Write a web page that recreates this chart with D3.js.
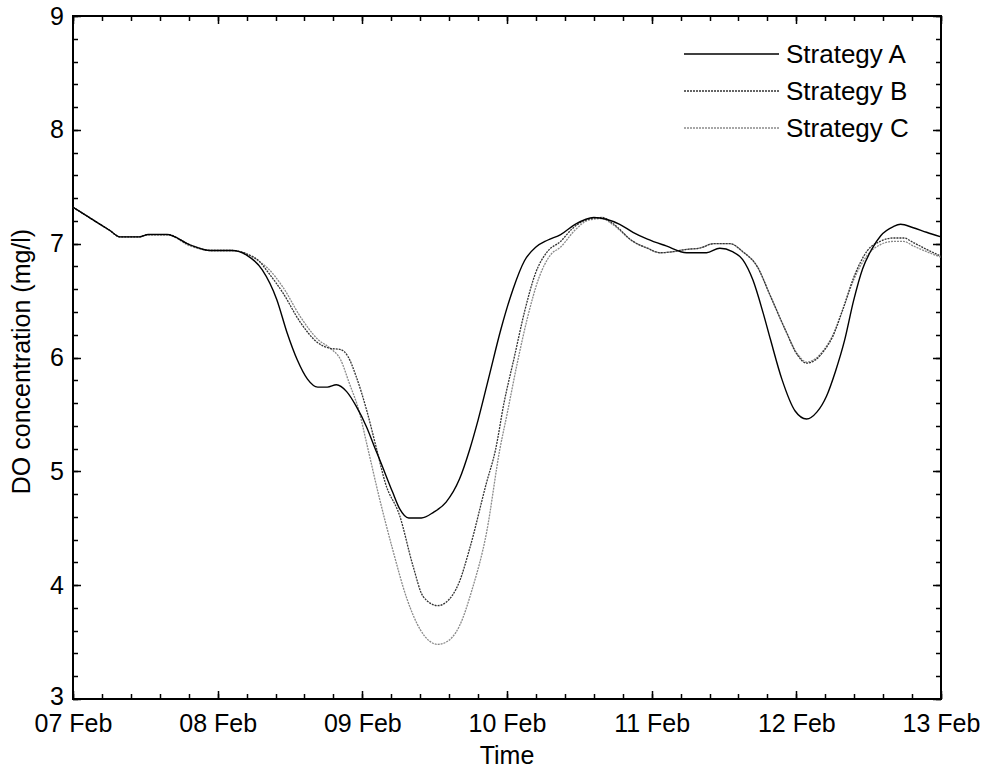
<!DOCTYPE html>
<html>
<head>
<meta charset="utf-8">
<script src="https://cdn.jsdelivr.net/npm/d3@7"></script>
<style>
  html, body { margin: 0; padding: 0; background: #fff; }
  svg text { font-family: "Liberation Sans", Arial, sans-serif; fill: #000; }
</style>
</head>
<body>
<svg id="chart" width="990" height="776"></svg>
<script>
// Simulated dissolved-oxygen concentration for three control strategies.
// Each point is [hours since 07 Feb 00:00, DO in mg/l].
const seriesNames = ["Strategy A", "Strategy B", "Strategy C"];

const strategyA = [
  [0, 7.32], [3, 7.22], [6, 7.12], [7.8, 7.06], [11, 7.06], [12.5, 7.08],
  [15.6, 7.08], [19.4, 6.99], [22.8, 6.94], [26.4, 6.94], [28.8, 6.90],
  [31.4, 6.77], [33.8, 6.51], [35.5, 6.22], [37.2, 5.98], [38.9, 5.81],
  [40.6, 5.74], [42.2, 5.74], [43.7, 5.76], [45.4, 5.70], [47, 5.57],
  [48.7, 5.39], [50.2, 5.19], [50.9, 5.10], [53, 4.82], [54.2, 4.67],
  [55.7, 4.59], [57.8, 4.59], [59.8, 4.64], [61.9, 4.73], [64.1, 4.93],
  [65.8, 5.19], [67.2, 5.45], [69.1, 5.85], [71, 6.25], [73, 6.60],
  [74.9, 6.85], [76.8, 6.97], [78.7, 7.03], [80.9, 7.08], [83.3, 7.17],
  [86.4, 7.23], [90.7, 7.17], [92.9, 7.10], [95.3, 7.04], [98.4, 6.98],
  [101.8, 6.92], [105.1, 6.92], [107.3, 6.96], [109.4, 6.93], [111.1, 6.86],
  [112.8, 6.68], [114.5, 6.39], [115.7, 6.16], [117.6, 5.81], [119.8, 5.53],
  [121.7, 5.46], [123.4, 5.52], [125, 5.66], [126.5, 5.88], [128, 6.15],
  [129.5, 6.50], [131, 6.78], [132.5, 6.95], [134, 7.07], [136.1, 7.15],
  [137.3, 7.17], [139.4, 7.14], [141.6, 7.10], [144, 7.06]
];

const strategyB = [
  [0, 7.32], [3, 7.22], [6, 7.12], [7.8, 7.06], [11, 7.06], [12.5, 7.08],
  [15.6, 7.08], [19.4, 6.99], [22.8, 6.94], [26.4, 6.94], [28.8, 6.91],
  [31, 6.84], [32.2, 6.76], [34.8, 6.57], [37.7, 6.31], [40.6, 6.13],
  [42.7, 6.08], [44.4, 6.07], [45.6, 6.01], [47, 5.83], [48.7, 5.54],
  [50.4, 5.19], [51.8, 4.90], [54.2, 4.61], [56.4, 4.17], [58.1, 3.90],
  [60.5, 3.82], [61.9, 3.85], [64.1, 4.03], [65.8, 4.32], [68.6, 4.90],
  [70.1, 5.19], [71.5, 5.60], [73.2, 6.00], [74.9, 6.40], [76.8, 6.75],
  [78.7, 6.93], [80.9, 7.02], [82.8, 7.13], [85.2, 7.21], [87.8, 7.23],
  [89.5, 7.18], [92.9, 7.02], [95.3, 6.96], [97.4, 6.92], [99.6, 6.93],
  [101.8, 6.95], [103.9, 6.96], [106.3, 7.00], [109, 7.00], [111.1, 6.93],
  [113.5, 6.80], [115.7, 6.54], [118.2, 6.24], [120.2, 6.02], [121.7, 5.95],
  [123.2, 5.98], [124.6, 6.06], [126, 6.18], [127.7, 6.42], [129.5, 6.70],
  [131.8, 6.94], [133.9, 7.02], [136.1, 7.05], [137.8, 7.05], [139.4, 7.01],
  [141.6, 6.95], [144, 6.89]
];

const strategyC = [
  [0, 7.32], [3, 7.22], [6, 7.12], [7.8, 7.06], [11, 7.06], [12.5, 7.08],
  [15.6, 7.08], [19.4, 6.98], [22.8, 6.94], [26.4, 6.94], [28.8, 6.91],
  [31, 6.84], [32.2, 6.79], [34.8, 6.62], [37.7, 6.36], [40.6, 6.16],
  [42.7, 6.08], [44.4, 5.98], [45.8, 5.78], [47.5, 5.52], [48.7, 5.25],
  [50.9, 4.75], [53, 4.32], [55.4, 3.88], [57.6, 3.61], [60.5, 3.48],
  [61.9, 3.50], [64.1, 3.64], [66.2, 3.96], [68.6, 4.46], [70.8, 5.19],
  [72, 5.50], [73.7, 5.95], [75.4, 6.35], [77.3, 6.70], [79.2, 6.90],
  [80.9, 6.97], [83.3, 7.12], [85.7, 7.21], [87.8, 7.22], [89.5, 7.17],
  [92.9, 7.02], [95.3, 6.96], [97.4, 6.92], [99.6, 6.93], [101.8, 6.95],
  [103.9, 6.96], [106.3, 7.00], [109, 7.00], [111.1, 6.93], [113.5, 6.80],
  [115.7, 6.54], [118.2, 6.24], [120.2, 6.03], [121.7, 5.96], [123.2, 5.99],
  [124.6, 6.07], [126, 6.19], [127.7, 6.42], [129.5, 6.68], [131.8, 6.90],
  [133.9, 6.99], [136.1, 7.02], [137.8, 7.02], [139.4, 6.98], [141.6, 6.93],
  [144, 6.88]
];

const yTickValues = [3, 4, 5, 6, 7, 8, 9];
const dayTickLabels = ["07 Feb", "08 Feb", "09 Feb", "10 Feb", "11 Feb", "12 Feb", "13 Feb"];
const xTitle = "Time";
const yTitle = "DO concentration (mg/l)";

const svg = d3.select("#chart");
const margin = { left: 73, right: 49, top: 16, bottom: 77 };
const W = 990, H = 776;
const x0 = margin.left, x1 = W - margin.right, y0 = H - margin.bottom, y1 = margin.top;

const start = Date.UTC(2000, 1, 7);
const toDate = h => new Date(start + h * 3600e3);

const x = d3.scaleUtc().domain([toDate(0), toDate(144)]).range([x0, x1]);
const y = d3.scaleLinear().domain([3, 9]).range([y0, y1]);

const tickFont = 25;
const titleFont = 25;
const legendFont = 26;

// Tick marks drawn inward on all four sides (major + minor).
const majorX = d3.range(0, 145, 24).map(toDate);
const minorX = d3.range(0, 144.01, 4.8).map(toDate);
const majorY = yTickValues;
const minorY = d3.range(3, 9.001, 0.2);

const tickG = svg.append("g").attr("stroke", "#000").attr("stroke-width", 1.5);
minorX.forEach(d => {
  const px = Math.round(x(d)) + 0.5;
  tickG.append("line").attr("x1", px).attr("x2", px).attr("y1", y0).attr("y2", y0 - 5);
  tickG.append("line").attr("x1", px).attr("x2", px).attr("y1", y1).attr("y2", y1 + 5);
});
majorX.forEach(d => {
  const px = Math.round(x(d)) + 0.5;
  tickG.append("line").attr("x1", px).attr("x2", px).attr("y1", y0).attr("y2", y0 - 8);
  tickG.append("line").attr("x1", px).attr("x2", px).attr("y1", y1).attr("y2", y1 + 8);
});
minorY.forEach(v => {
  const py = Math.round(y(v)) + 0.5;
  tickG.append("line").attr("x1", x0).attr("x2", x0 + 5).attr("y1", py).attr("y2", py);
  tickG.append("line").attr("x1", x1).attr("x2", x1 - 5).attr("y1", py).attr("y2", py);
});
majorY.forEach(v => {
  const py = Math.round(y(v)) + 0.5;
  tickG.append("line").attr("x1", x0).attr("x2", x0 + 8).attr("y1", py).attr("y2", py);
  tickG.append("line").attr("x1", x1).attr("x2", x1 - 8).attr("y1", py).attr("y2", py);
});

// Tick labels via d3 axes (tick lines hidden, custom ones above).
const xAxis = d3.axisBottom(x).tickValues(majorX).tickSize(0).tickPadding(15)
  .tickFormat((d, i) => dayTickLabels[i]);
svg.append("g").attr("transform", `translate(0,${y0})`).call(xAxis)
  .call(g => g.select(".domain").remove())
  .selectAll("text").attr("font-size", tickFont).attr("font-family", "Liberation Sans, Arial, sans-serif");

const yAxis = d3.axisLeft(y).tickValues(majorY).tickSize(0).tickPadding(9).tickFormat(d3.format("d"));
svg.append("g").attr("transform", `translate(${x0},0)`).call(yAxis)
  .call(g => g.select(".domain").remove())
  .selectAll("text").attr("font-size", tickFont).attr("font-family", "Liberation Sans, Arial, sans-serif")
  .attr("dy", d => d === 3 ? "0.2em" : "0.32em");

// Plot frame
svg.append("rect").attr("x", x0).attr("y", y1).attr("width", x1 - x0).attr("height", y0 - y1)
  .attr("fill", "none").attr("stroke", "#000").attr("stroke-width", 2);

// Axis titles
svg.append("text").attr("x", (x0 + x1) / 2).attr("y", 764).attr("text-anchor", "middle")
  .attr("font-size", titleFont).text(xTitle);
svg.append("text").attr("transform", `translate(30,${(y0 + y1) / 2 + 4}) rotate(-90)`)
  .attr("text-anchor", "middle").attr("font-size", titleFont).text(yTitle);

// Lines
const styles = [
  { stroke: "#000", width: 1.4, dash: null },
  { stroke: "#333", width: 1.3, dash: "2,1" },
  { stroke: "#8a8a8a", width: 1.3, dash: "2,1" }
];
const line = d3.line().x(d => x(toDate(d[0]))).y(d => y(d[1])).curve(d3.curveMonotoneX);
const allSeries = [strategyA, strategyB, strategyC];

const plot = svg.append("g");
[2, 1, 0].forEach(i => {
  plot.append("path").datum(allSeries[i]).attr("d", line).attr("fill", "none")
    .attr("stroke", styles[i].stroke).attr("stroke-width", styles[i].width)
    .attr("stroke-dasharray", styles[i].dash);
});

// Legend
const legend = svg.append("g");
seriesNames.forEach((name, i) => {
  const ly = 54 + i * 37;
  legend.append("line").attr("x1", 684).attr("x2", 779).attr("y1", ly).attr("y2", ly)
    .attr("stroke", styles[i].stroke).attr("stroke-width", styles[i].width)
    .attr("stroke-dasharray", styles[i].dash);
  legend.append("text").attr("x", 786).attr("y", ly + 9).attr("font-size", legendFont).text(name);
});
</script>
</body>
</html>
